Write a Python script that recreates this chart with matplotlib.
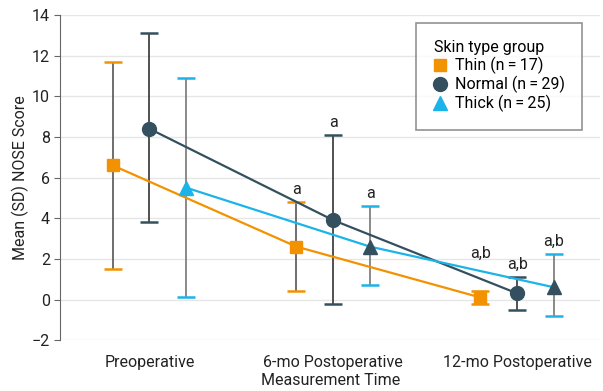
import numpy as np
import matplotlib
matplotlib.use('Agg')
import matplotlib.pyplot as plt
from matplotlib.lines import Line2D

plt.rcParams['font.family'] = ['Roboto', 'DejaVu Sans']

categories = ['Preoperative', '6-mo Postoperative', '12-mo Postoperative']
groups = ['Thin (n\u2009=\u200917)', 'Normal (n\u2009=\u200929)', 'Thick (n\u2009=\u200925)']

thin_mean = [6.6, 2.6, 0.1]
thin_lo = [1.5, 0.4, -0.2]
thin_hi = [11.7, 4.8, 0.4]

normal_mean = [8.4, 3.9, 0.3]
normal_lo = [3.8, -0.2, -0.5]
normal_hi = [13.1, 8.1, 1.1]

thick_mean = [5.5, 2.6, 0.6]
thick_lo = [0.1, 0.7, -0.8]
thick_hi = [10.9, 4.6, 2.25]

thin_notes = ['', 'a', 'a,b']
normal_notes = ['', 'a', 'a,b']
thick_notes = ['', 'a', 'a,b']

orange = '#F39200'
slate = '#34505F'
blue = '#1CB4E8'
txt = '#222222'
fs = 11.5

fig = plt.figure(figsize=(6.03, 3.91), dpi=100)
ax = fig.add_axes([0.1, 0.13, 0.895, 0.832])

x = np.arange(len(categories))
off = 0.2

series = [
    (thin_mean, thin_lo, thin_hi, thin_notes, -off, orange, 's', 9, '#555555', [orange, orange, orange]),
    (normal_mean, normal_lo, normal_hi, normal_notes, 0, slate, 'o', 10, '#333333', [slate, slate, slate]),
    (thick_mean, thick_lo, thick_hi, thick_notes, off, blue, '^', 10, '#777777', [blue, slate, slate]),
]

for k, (mean, lo, hi, notes, dx, col, mk, ms, ecol, mcols) in enumerate(series):
    xs = x + dx
    mean = np.array(mean)
    yerr = [mean - np.array(lo), np.array(hi) - mean]
    eb = ax.errorbar(xs, mean, yerr=yerr, fmt='none', ecolor=ecol, elinewidth=1.2,
                     capsize=6.5, capthick=1.8, zorder=2)
    for cl in eb[1]:
        cl.set_markeredgecolor(col)
        cl.set_color(col)
    ax.plot(xs, mean, color=col, lw=1.6, zorder=3)
    for xi, yi, mc in zip(xs, mean, mcols):
        ax.plot(xi, yi, marker=mk, ms=ms, color=mc, ls='none', zorder=4)
    for i, (xi, h, t) in enumerate(zip(xs, hi, notes)):
        if t:
            # thin group's 12-mo label sits higher, above the crossing lines
            lift = 1.5 if (k == 0 and i == 2) else 0.25
            ax.text(xi, h + lift, t, ha='center', va='bottom', fontsize=fs, color=txt)

ax.set_xlim(-0.484, 2.45)
ax.set_ylim(-2, 14)
ax.set_yticks(np.arange(-2, 15, 2))
ax.set_yticklabels(['\u22122'] + [str(v) for v in range(0, 15, 2)])
ax.set_xticks(x)
ax.set_xticklabels(categories)
ax.grid(axis='y', color='#E6E6E6', lw=1)
ax.set_axisbelow(True)
for s in ['top', 'right', 'bottom']:
    ax.spines[s].set_visible(False)
ax.spines['left'].set_color('#666666')
ax.tick_params(axis='y', length=4, color='#666666', labelsize=fs, labelcolor=txt)
ax.tick_params(axis='x', length=0, pad=11, labelsize=fs, labelcolor=txt)
ax.set_ylabel('Mean (SD) NOSE Score', fontsize=fs, color=txt, labelpad=2)
ax.set_xlabel('Measurement Time', fontsize=fs, color=txt, labelpad=2)

handles = [
    Line2D([], [], marker='s', color=orange, ls='none', ms=9),
    Line2D([], [], marker='o', color=slate, ls='none', ms=10),
    Line2D([], [], marker='^', color=blue, ls='none', ms=10),
]
leg = ax.legend(handles, groups, title='Skin type group', loc='upper right',
                bbox_to_anchor=(0.982, 1.0), fontsize=fs, title_fontsize=fs,
                fancybox=False, edgecolor='#777777', handlelength=0.8,
                handletextpad=0.5, borderpad=1.1, labelspacing=0.1)
leg.get_frame().set_linewidth(1.2)
leg._legend_box.align = 'left'

fig.savefig('out.png', dpi=100)
